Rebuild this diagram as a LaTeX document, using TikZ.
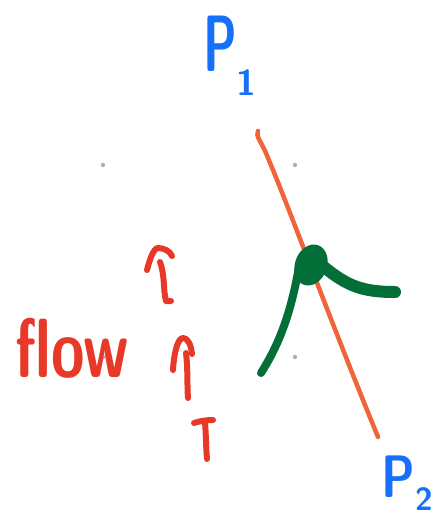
\documentclass[tikz,border=0pt]{standalone}
\usepackage{fontspec}
\definecolor{penblue}{RGB}{22,112,250}
\definecolor{penred}{RGB}{232,56,40}
\definecolor{penorange}{RGB}{240,100,58}
\definecolor{pengreen}{RGB}{3,110,55}
\definecolor{dotgray}{RGB}{160,180,208}
\tikzset{
  lbl/.style={text=penblue,font=\sffamily\bfseries\fontsize{80}{80}\selectfont,inner sep=0pt},
  flowlbl/.style={text=penred,font=\sffamily\bfseries\fontsize{58}{58}\selectfont,inner sep=0pt},
  redstroke/.style={draw=penred,line width=6pt,line cap=round,line join=round},
  streamline/.style={draw=penorange,line width=4.5pt,line cap=round},
  kink/.style={draw=pengreen,line cap=round,line join=round}
}
\begin{document}
\begin{tikzpicture}[x=1pt,y=-1pt]
\useasboundingbox (0,0) rectangle (442,516);
% grid dots
\foreach \gx/\gy in {103/165,295/165,295/357,103/357}
  \fill[dotgray] (\gx,\gy) circle (2.2);
% labels
\node[lbl] (p1) at (230,56) {\scalebox{0.6}[1]{P}\raisebox{-0.3em}{\scalebox{0.45}{1}}};
\node[lbl] (p2) at (407,483) {\scalebox{0.6}[0.75]{P}\raisebox{-0.16em}{\scalebox{0.4}{2}}};
\node[flowlbl] (flow) at (72,348) {\scalebox{1.05}[1.45]{flow}};
% orange line between the two points
\coordinate (top) at (258,131);
\coordinate (bot) at (378,437);
\draw[streamline] (top) .. controls (255,136) and (262,142) .. (268,158)
  .. controls (290,210) and (330,320) .. (bot);
% green shape
\draw[kink,line width=8pt] (261,373) .. controls (285,335) and (293,300) .. (300,262);
\draw[kink,line width=12pt] (318,262) .. controls (345,285) and (360,292) .. (395,292);
\fill[pengreen,rotate around={-20:(311,265)}] (311,265) ellipse (16 and 21);
% red arrows
\draw[redstroke] (147,270) .. controls (150,258) and (154,248) .. (158,248)
  .. controls (164,248) and (170,251) .. (172,256);
\draw[redstroke] (160,262) .. controls (165,275) and (163,290) .. (166,301) -- (171,301);
\draw[redstroke] (173,370) .. controls (174,352) and (178,338) .. (183,338)
  .. controls (188,338) and (191,345) .. (192,354);
\draw[redstroke] (186,353) .. controls (188,370) and (187,385) .. (188,398);
\draw[redstroke] (194,423) .. controls (200,421) and (207,420) .. (213,420);
\draw[redstroke] (205,422) .. controls (206,435) and (206,448) .. (207,459);
\end{tikzpicture}
\end{document}
